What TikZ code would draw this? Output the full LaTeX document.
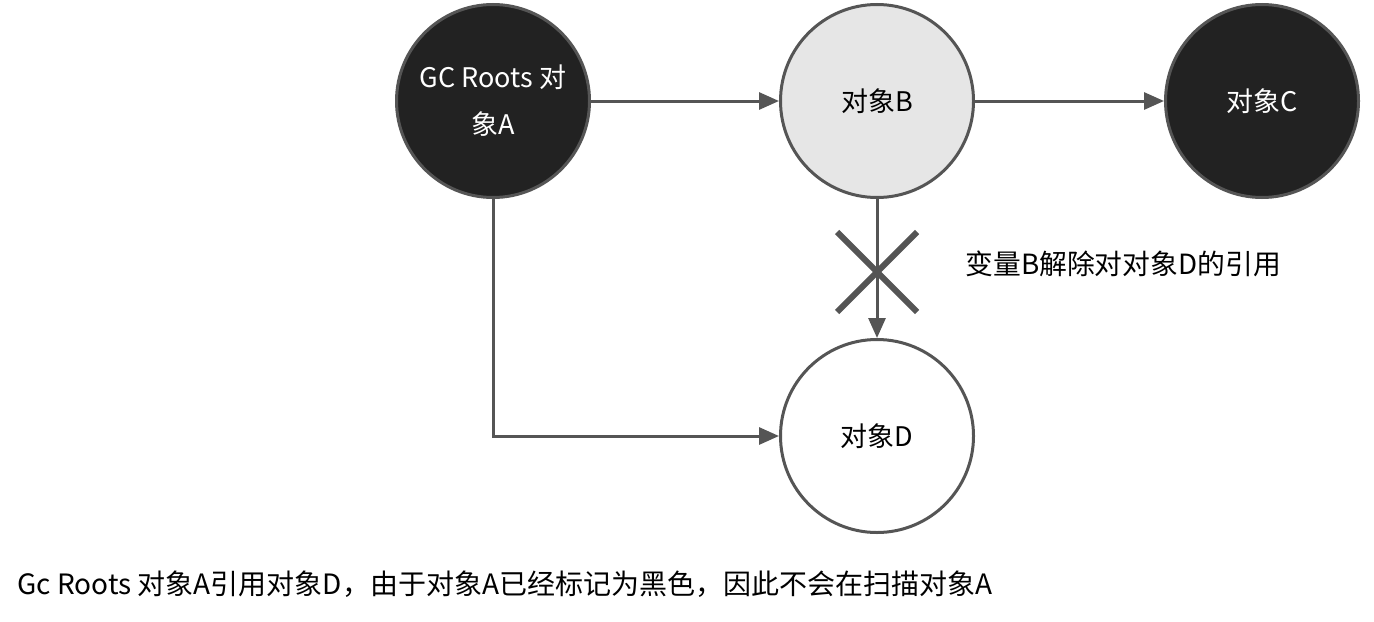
\documentclass[tikz,border=0pt]{standalone}
\usepackage{fontspec}
\setmainfont{Noto Sans CJK SC}
\usetikzlibrary{arrows.meta}
\definecolor{edgegray}{HTML}{555555}
\definecolor{darkfill}{HTML}{222222}
\definecolor{lightfill}{HTML}{E6E6E6}
\begin{document}
\begin{tikzpicture}[x=0.5pt,y=-0.5pt,
  obj/.style={circle,draw=edgegray,line width=1.5pt,minimum size=96.5pt,inner sep=0pt,align=center,font=\fontsize{13.5pt}{23.5pt}\selectfont},
  darkobj/.style={obj,fill=darkfill,text=white},
  conn/.style={draw=edgegray,line width=1.5pt,-{Triangle[length=10pt,width=8.5pt]}},
  cross/.style={draw=edgegray,line width=3pt},
  lbl/.style={font=\fontsize{13.9pt}{16pt}\selectfont,text=black,inner sep=0pt}]
\useasboundingbox (0,0) rectangle (1374,621);
\node[darkobj] (A) at (493,101) {GC Roots 对\\象A};
\node[obj,fill=lightfill] (B) at (877,101) {对象B};
\node[darkobj] (C) at (1262,101) {对象C};
\node[obj,fill=white] (D) at (877,436) {对象D};
\draw[conn] (A) -- (B);
\draw[conn] (B) -- (C);
\draw[conn] (B) -- (D);
\draw[conn] (A.south) |- (D.west);
\coordinate (x1) at (837,232);
\coordinate (x2) at (917,312);
\coordinate (x3) at (917,232);
\coordinate (x4) at (837,312);
\draw[cross] (x1) -- (x2);
\draw[cross] (x3) -- (x4);
\node[lbl,anchor=west] (L) at (965,264) {变量B解除对对象D的引用};
\node[lbl,anchor=west,font=\fontsize{14pt}{16pt}\selectfont] (N) at (17,584) {Gc Roots 对象A引用对象D，由于对象A已经标记为黑色，因此不会在扫描对象A};
\end{tikzpicture}
\end{document}
